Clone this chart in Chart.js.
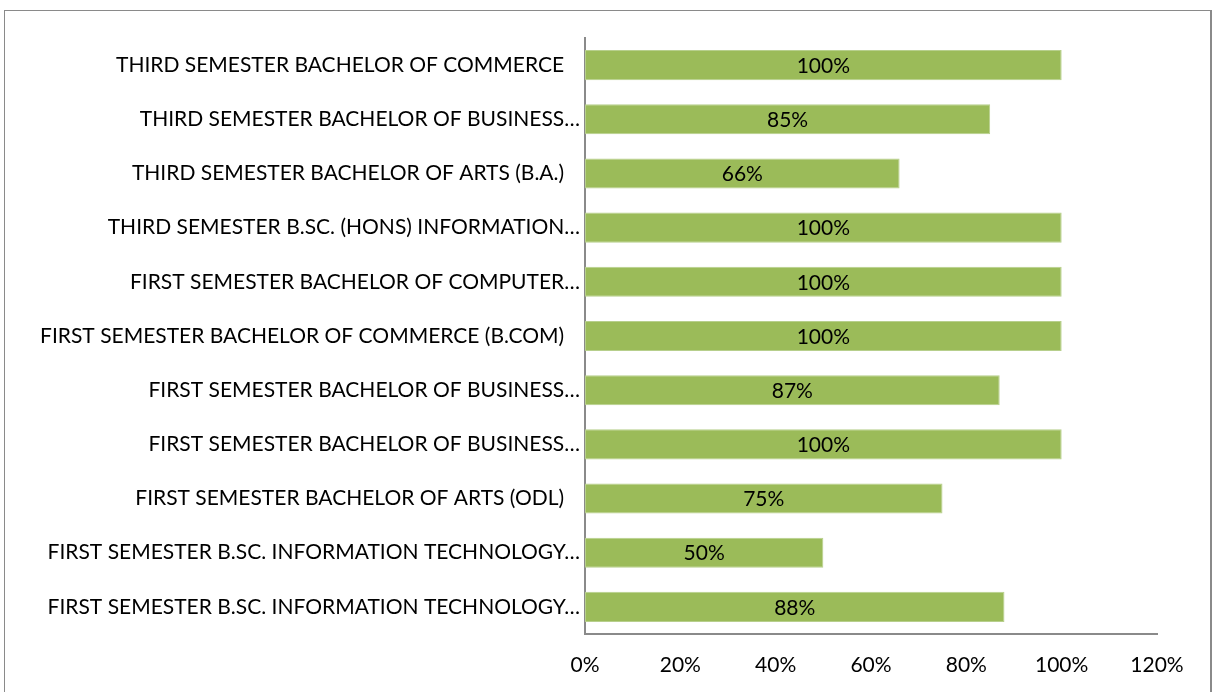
<!DOCTYPE html>
<html>
<head>
<meta charset="utf-8">
<script src="https://cdn.jsdelivr.net/npm/chart.js@4/dist/chart.umd.min.js"></script>
<style>
    html, body { margin: 0; padding: 0; background: #fff; overflow: hidden; }
    .frame {
        position: absolute;
        left: 4px;
        top: 10px;
        width: 1208px;
        height: 700px;
        border: 1px solid #8a8a8a;
        border-right-width: 2px;
        box-sizing: border-box;
    }
    .chart-canvas-wrap { position: absolute; left: 0; top: 0; right: 0; bottom: 0; }
</style>
</head>
<body>
<div class="frame">
    <div class="chart-canvas-wrap"><canvas id="chart"></canvas></div>
</div>
<script>
// labels that are not cut off keep a trailing space, like the source chart
const programLabels = [
    "THIRD SEMESTER BACHELOR OF COMMERCE\u2002 ",
    "THIRD SEMESTER BACHELOR OF BUSINESS…",
    "THIRD SEMESTER BACHELOR OF ARTS (B.A.)\u2002 ",
    "THIRD SEMESTER B.SC. (HONS) INFORMATION…",
    "FIRST SEMESTER BACHELOR OF COMPUTER…",
    "FIRST SEMESTER BACHELOR OF COMMERCE (B.COM)\u2002 ",
    "FIRST SEMESTER BACHELOR OF BUSINESS…",
    "FIRST SEMESTER BACHELOR OF BUSINESS…",
    "FIRST SEMESTER BACHELOR OF ARTS (ODL)\u2002 ",
    "FIRST SEMESTER B.SC. INFORMATION TECHNOLOGY…",
    "FIRST SEMESTER B.SC. INFORMATION TECHNOLOGY…"
];
const passRates = [1.00, 0.85, 0.66, 1.00, 1.00, 1.00, 0.87, 1.00, 0.75, 0.50, 0.88];
const axisMin = 0;
const axisMax = 1.2;
const axisStep = 0.2;

const fontFamily = "Lato, 'Open Sans', sans-serif";
const fmtPct = (v) => `${Math.round(v * 100)}%`;

// draws the value text in the middle of each bar
const barValueLabels = {
    id: "barValueLabels",
    afterDatasetsDraw(chart) {
        const { ctx } = chart;
        const meta = chart.getDatasetMeta(0);
        ctx.save();
        ctx.font = `21px ${fontFamily}`;
        ctx.fillStyle = "#000";
        ctx.textAlign = "center";
        ctx.textBaseline = "middle";
        meta.data.forEach((bar, i) => {
            const cx = (bar.x + bar.base) / 2;
            ctx.fillText(fmtPct(chart.data.datasets[0].data[i]), cx, bar.y + 1);
        });
        ctx.restore();
    }
};

new Chart(document.getElementById("chart"), {
    type: "bar",
    data: {
        labels: programLabels,
        datasets: [{
            data: passRates,
            backgroundColor: "#9bbb59",
            borderColor: "#b7cf8c",
            borderWidth: 1,
            borderSkipped: false,
            categoryPercentage: 1,
            barPercentage: 0.555
        }]
    },
    plugins: [barValueLabels],
    options: {
        indexAxis: "y",
        responsive: true,
        maintainAspectRatio: false,
        animation: false,
        layout: { padding: { left: 0, right: 53, top: 27, bottom: 0 } },
        plugins: {
            legend: { display: false },
            tooltip: { enabled: false }
        },
        scales: {
            x: {
                min: axisMin,
                max: axisMax,
                afterFit: (scale) => { scale.height = 75; },
                ticks: {
                    stepSize: axisStep,
                    callback: (value) => fmtPct(value),
                    color: "#000",
                    font: { family: fontFamily, size: 21 },
                    padding: 19
                },
                grid: { display: false, drawTicks: false },
                border: { display: true, color: "#8a8a8a", width: 2 }
            },
            y: {
                afterFit: (scale) => { scale.width = 580; },
                ticks: {
                    color: "#000",
                    font: { family: fontFamily, size: 21 },
                    padding: 5,
                    autoSkip: false
                },
                grid: { display: false, drawTicks: false },
                border: { display: true, color: "#8a8a8a", width: 2 }
            }
        }
    }
});
</script>
</body>
</html>
